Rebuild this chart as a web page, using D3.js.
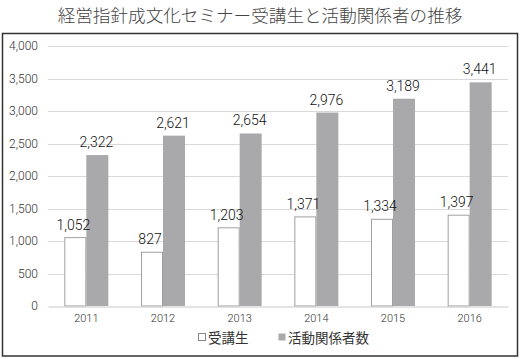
<!DOCTYPE html>
<html>
<head>
<meta charset="utf-8">
<script src="https://cdn.jsdelivr.net/npm/d3@7"></script>
<style>
  body { margin: 0; background: #fff; }
  svg { display: block; font-family: "Noto Sans CJK JP", "Noto Sans", sans-serif; }
</style>
</head>
<body>
<svg width="520" height="359"></svg>
<script>
var years = ["2011", "2012", "2013", "2014", "2015", "2016"];
var students = [1052, 827, 1203, 1371, 1334, 1397];
var related = [2322, 2621, 2654, 2976, 3189, 3441];
var seriesNames = ["受講生", "活動関係者数"];
var yTicks = [0, 500, 1000, 1500, 2000, 2500, 3000, 3500, 4000];

var svg = d3.select("svg");
var plotLeft = 48, plotRight = 508, plotTop = 46, plotBottom = 306;
var numFont = "Roboto, 'Noto Sans', sans-serif";

// title
svg.append("text")
    .attr("x", 260).attr("y", 22)
    .attr("text-anchor", "middle")
    .attr("font-size", 17.6)
    .attr("font-weight", 300)
    .attr("fill", "#444")
    .text("経営指針成文化セミナー受講生と活動関係者の推移");

// frame
svg.append("rect")
    .attr("x", 2.5).attr("y", 33.5)
    .attr("width", 515).attr("height", 322.5)
    .attr("fill", "none")
    .attr("stroke", "#333")
    .attr("stroke-width", 1.5);

var x = d3.scaleBand().domain(years).range([plotLeft, plotRight]);
var inner = d3.scaleBand().domain([0, 1]).range([0, 44]);
var y = d3.scaleLinear().domain([0, 4000]).range([plotBottom, plotTop]);

// gridlines
svg.append("g").selectAll("line")
    .data(yTicks.slice(1))
    .enter().append("line")
    .attr("x1", plotLeft).attr("x2", plotRight)
    .attr("y1", function(d) { return Math.round(y(d)) + 0.5; })
    .attr("y2", function(d) { return Math.round(y(d)) + 0.5; })
    .attr("stroke", "#d9d9d9");

// y axis labels
var yAxis = svg.append("g")
    .attr("transform", "translate(" + (plotLeft - 4) + ",0)")
    .call(d3.axisLeft(y).tickValues(yTicks).tickSize(0).tickPadding(6).tickFormat(d3.format(",")));
yAxis.select(".domain").remove();
yAxis.selectAll("text")
    .attr("font-size", 12)
    .attr("font-family", numFont)
    .attr("font-weight", 300)
    .attr("fill", "#333");

// bars
var groups = svg.append("g").selectAll("g")
    .data(years)
    .enter().append("g")
    .attr("transform", function(d) { return "translate(" + (x(d) + x.bandwidth() / 2 - 22) + ",0)"; });

groups.append("rect")
    .attr("x", inner(0) + 0.5)
    .attr("y", function(d, i) { return y(students[i]); })
    .attr("width", inner.bandwidth() - 1)
    .attr("height", function(d, i) { return plotBottom - y(students[i]); })
    .attr("fill", "#fff")
    .attr("stroke", "#a0a0a0")
    .attr("stroke-width", 1);

groups.append("rect")
    .attr("x", inner(1))
    .attr("y", function(d, i) { return y(related[i]); })
    .attr("width", inner.bandwidth())
    .attr("height", function(d, i) { return plotBottom - y(related[i]); })
    .attr("fill", "#a9a9ab");

var fmt = d3.format(",");
groups.append("text")
    .attr("x", inner(0) + inner.bandwidth() / 2 - 2)
    .attr("y", function(d, i) { return y(students[i]) - 8; })
    .attr("text-anchor", "middle")
    .attr("font-size", 14)
    .attr("font-family", numFont)
    .attr("font-weight", 300)
    .attr("fill", "#111")
    .text(function(d, i) { return fmt(students[i]); });

groups.append("text")
    .attr("x", inner(1) + inner.bandwidth() / 2 - 1)
    .attr("y", function(d, i) { return y(related[i]) - 8; })
    .attr("text-anchor", "middle")
    .attr("font-size", 14)
    .attr("font-family", numFont)
    .attr("font-weight", 300)
    .attr("fill", "#111")
    .text(function(d, i) { return fmt(related[i]); });

// x axis
var xAxis = svg.append("g")
    .attr("transform", "translate(0," + (plotBottom + 0.5) + ")")
    .call(d3.axisBottom(x).tickSize(0).tickPadding(8));
xAxis.select(".domain").attr("stroke", "#c8c8c8");
xAxis.selectAll("text")
    .attr("font-size", 11)
    .attr("font-family", numFont)
    .attr("font-weight", 300)
    .attr("fill", "#333");

// legend
var legend = svg.append("g");
var lx = [198, 278];
legend.selectAll("rect")
    .data(seriesNames)
    .enter().append("rect")
    .attr("x", function(d, i) { return lx[i] + 0.5; })
    .attr("y", 333.5)
    .attr("width", 7).attr("height", 7)
    .attr("fill", function(d, i) { return i ? "#a9a9ab" : "#fff"; })
    .attr("stroke", function(d, i) { return i ? "none" : "#888"; });
legend.selectAll("text")
    .data(seriesNames)
    .enter().append("text")
    .attr("x", function(d, i) { return lx[i] + 10; })
    .attr("y", 343)
    .attr("font-size", 13.5)
    .attr("fill", "#333")
    .text(function(d) { return d; });
</script>
</body>
</html>
